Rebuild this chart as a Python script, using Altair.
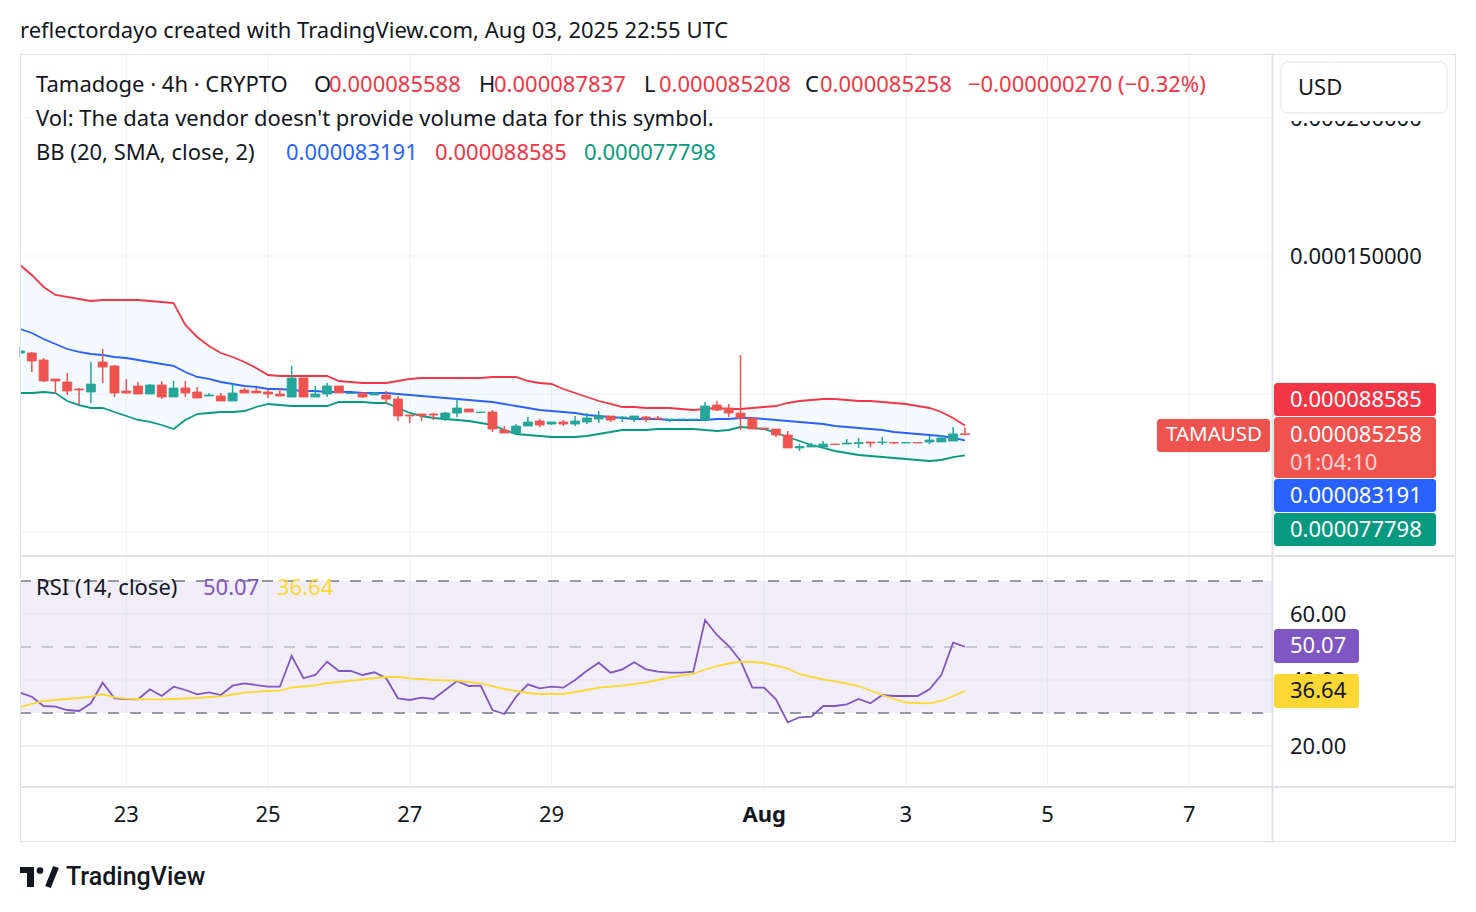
import altair as alt
import pandas as pd
import numpy as np

# ---------------- data (prices in units of 1e-6 USD) ----------------
open_e6 = [114.85, 114.85, 112.31, 105.43, 104.35, 101.81, 100.72, 111.59, 110.14, 101.08,
           102.90, 99.99, 103.26, 98.91, 102.17, 100.72, 99.27, 99.27, 97.46, 101.45,
           101.08, 100.72, 99.99, 98.91, 105.80, 98.91, 99.99, 102.90, 100.20, 100.36,
           99.63, 99.63, 98.18, 92.39, 92.75, 92.75, 91.30, 93.11, 94.56, 93.30,
           93.47, 86.95, 85.86, 88.40, 90.21, 89.12, 89.85, 89.12, 89.85, 90.94,
           92.02, 91.30, 90.94, 91.66, 91.30, 90.58, 90.76, 90.76, 90.58, 96.01,
           94.92, 93.11, 91.30, 87.68, 87.31, 85.14, 80.43, 80.79, 80.79, 81.88,
           81.88, 82.06, 82.60, 82.42, 82.42, 82.24, 82.42, 82.60, 82.60, 82.97,
           85.588]
high_e6 = [117.39, 115.22, 113.04, 105.43, 107.61, 102.17, 111.59, 116.30, 110.50, 105.43,
           104.35, 103.62, 104.71, 104.71, 104.71, 102.53, 100.36, 100.36, 103.62, 102.17,
           102.17, 101.45, 102.17, 110.14, 105.80, 102.90, 103.98, 102.90, 100.36, 100.36,
           100.72, 101.08, 99.27, 92.39, 92.75, 93.11, 93.47, 98.18, 94.56, 93.47,
           94.20, 88.40, 89.12, 91.66, 90.94, 89.85, 90.58, 92.02, 93.11, 93.84,
           92.02, 92.02, 92.02, 92.02, 92.02, 90.94, 90.94, 90.94, 97.10, 97.46,
           96.37, 114.13, 91.30, 87.68, 87.31, 86.59, 81.88, 82.24, 82.97, 81.88,
           83.69, 84.05, 82.60, 84.41, 82.42, 82.42, 82.42, 84.78, 85.14, 88.04,
           87.837]
low_e6 = [113.04, 107.97, 104.35, 99.99, 99.63, 96.01, 96.73, 103.98, 98.91, 99.99,
          99.99, 99.99, 98.18, 98.91, 98.91, 98.55, 99.27, 97.46, 97.46, 100.36,
          100.36, 98.55, 99.27, 98.91, 98.91, 98.91, 98.91, 100.36, 99.99, 98.55,
          99.63, 96.37, 90.21, 89.49, 90.21, 90.58, 90.21, 91.66, 93.47, 93.11,
          86.23, 85.86, 85.86, 88.40, 88.04, 88.76, 88.40, 88.40, 89.12, 89.49,
          89.85, 89.85, 89.85, 89.85, 90.94, 89.85, 90.58, 90.58, 90.58, 93.84,
          91.66, 86.95, 87.31, 87.31, 84.41, 80.43, 79.34, 80.79, 80.43, 81.70,
          81.88, 80.43, 80.79, 81.52, 81.88, 82.24, 82.24, 81.88, 82.60, 82.97,
          85.208]
close_e6 = [115.58, 111.95, 104.71, 104.71, 101.08, 101.45, 103.62, 109.78, 100.36, 100.36,
            99.99, 103.26, 98.91, 102.17, 100.36, 98.55, 99.63, 97.46, 100.36, 100.36,
            100.36, 99.99, 99.27, 105.80, 98.91, 99.99, 102.90, 100.36, 100.36, 98.91,
            100.36, 98.18, 92.02, 92.02, 92.20, 92.39, 93.11, 94.92, 93.47, 93.47,
            87.31, 85.86, 88.40, 89.85, 88.76, 89.85, 89.12, 90.21, 91.30, 92.02,
            90.58, 91.66, 92.02, 90.94, 90.94, 90.94, 90.94, 90.94, 95.65, 94.20,
            93.11, 91.30, 87.31, 87.31, 85.14, 80.43, 80.97, 81.52, 81.88, 81.70,
            82.24, 82.42, 82.24, 82.60, 82.24, 82.42, 82.24, 83.33, 84.05, 85.528,
            85.258]
bb_upper_e6 = [146.74, 143.12, 138.77, 135.87, 135.15, 134.42, 133.70, 134.06, 134.06, 134.06,
               134.06, 133.70, 133.33, 132.97, 125.00, 120.65, 117.39, 114.85, 113.41, 111.59,
               109.42, 106.88, 106.52, 106.52, 106.52, 106.52, 106.52, 104.71, 104.35, 103.99,
               103.99, 103.99, 104.71, 105.44, 105.80, 105.80, 105.80, 105.80, 105.80, 105.80,
               106.16, 106.16, 106.16, 104.71, 103.99, 103.62, 101.81, 100.36, 98.91, 97.46,
               96.38, 95.29, 95.29, 94.93, 94.93, 94.93, 94.57, 94.20, 94.57, 94.93,
               94.57, 94.57, 94.93, 95.29, 95.65, 96.74, 97.46, 97.83, 98.19, 98.19,
               97.83, 97.46, 97.46, 97.10, 96.74, 96.38, 95.65, 94.93, 93.48, 91.30,
               88.585]
bb_basis_e6 = [123.55, 122.10, 119.93, 118.12, 116.30, 115.22, 114.49, 114.13, 113.41, 113.04,
               112.32, 111.59, 110.87, 110.15, 107.97, 106.16, 105.44, 104.35, 103.62, 102.90,
               102.54, 101.81, 101.81, 101.45, 101.09, 101.09, 100.72, 100.72, 100.72, 100.36,
               100.36, 100.36, 100.00, 99.64, 99.28, 98.91, 98.55, 98.19, 97.83, 97.46,
               97.10, 96.38, 95.65, 94.93, 94.20, 93.84, 93.48, 93.12, 92.39, 92.03,
               91.67, 91.30, 90.94, 90.94, 90.94, 90.58, 90.58, 90.58, 90.58, 90.94,
               90.94, 91.30, 91.30, 90.94, 90.58, 90.22, 89.86, 89.49, 89.13, 88.41,
               88.04, 87.68, 87.32, 86.96, 86.23, 85.87, 85.51, 85.15, 84.78, 84.06,
               83.191]
bb_lower_e6 = [100.36, 100.36, 100.72, 100.36, 97.46, 96.01, 94.93, 94.93, 93.48, 92.03,
               90.58, 89.86, 88.77, 87.32, 90.58, 92.75, 93.12, 93.48, 93.48, 93.84,
               95.29, 96.38, 96.01, 95.65, 95.65, 95.65, 95.65, 97.10, 97.10, 97.10,
               96.74, 96.74, 94.93, 93.12, 92.03, 91.30, 90.94, 90.58, 90.22, 89.49,
               88.77, 86.96, 85.51, 85.15, 84.78, 84.42, 84.42, 84.42, 84.78, 85.51,
               86.23, 86.96, 86.96, 86.96, 87.32, 87.32, 87.32, 87.32, 86.96, 86.60,
               86.96, 88.04, 87.68, 87.32, 85.87, 84.42, 82.97, 81.52, 80.44, 79.35,
               78.62, 77.90, 77.54, 77.17, 76.81, 76.45, 76.09, 75.72, 76.09, 77.17,
               77.798]
rsi_vals = [36.15, 34.94, 32.12, 31.91, 30.91, 30.61, 32.94, 39.18, 34.45, 34.24,
            34.15, 37.18, 35.15, 37.97, 36.97, 35.67, 36.27, 35.45, 38.27, 39.00,
            38.48, 37.97, 37.97, 47.27, 40.52, 41.52, 45.55, 42.73, 42.73, 41.52,
            42.33, 40.52, 34.45, 33.94, 34.64, 34.24, 36.97, 39.70, 38.18, 38.27,
            30.91, 29.70, 34.94, 38.70, 37.48, 37.97, 37.67, 40.00, 42.82, 45.24,
            42.21, 43.24, 45.36, 43.24, 42.52, 42.21, 42.21, 42.52, 58.18, 53.64,
            50.30, 45.85, 37.67, 37.67, 34.15, 27.18, 28.70, 28.88, 32.12, 32.12,
            32.64, 34.24, 32.94, 35.45, 35.15, 35.15, 35.15, 37.18, 41.52, 51.30,
            50.07]
rsi_ma_vals = [31.73, 32.73, 33.64, 33.94, 34.24, 34.55, 34.94, 35.67, 34.76, 34.33,
               34.24, 34.15, 34.15, 34.24, 34.39, 34.55, 34.85, 35.06, 35.61, 36.15,
               36.42, 36.67, 36.76, 37.73, 38.03, 38.39, 39.09, 39.39, 39.79, 40.15,
               40.61, 40.91, 40.91, 40.52, 40.30, 40.00, 39.91, 39.79, 39.39, 39.00,
               38.18, 37.27, 36.67, 36.06, 35.76, 35.76, 35.76, 36.36, 36.97, 37.67,
               38.03, 38.27, 38.79, 39.30, 40.00, 40.76, 41.36, 41.82, 43.18, 44.24,
               45.00, 45.55, 45.45, 45.15, 44.39, 43.48, 41.82, 40.91, 40.15, 39.55,
               38.94, 38.18, 36.82, 35.45, 34.24, 33.18, 33.03, 32.94, 33.64, 35.15,
               36.64]

price_ticks_e6 = [50, 100, 150, 200]
price_ticks_labelled_e6 = [150, 200]   # the others sit under the price tags
rsi_ticks = [20, 40, 60]
rsi_levels = [70, 50, 30]
date_ticks = ["2025-07-23", "2025-07-25", "2025-07-27", "2025-07-29",
              "2025-08-01", "2025-08-03", "2025-08-05", "2025-08-07"]
date_labels = ["23", "25", "27", "29", "Aug", "3", "5", "7"]
date_bold = [False, False, False, False, True, False, False, False]

# ---------------- frames ----------------
E6 = 1e-6
t0 = pd.Timestamp("2025-07-21 12:00", tz="UTC")
times = pd.date_range(t0, periods=len(close_e6), freq="4h")
ms = lambda ts: int(ts.value // 10**6)

df = pd.DataFrame({
    "t": [ms(t) for t in times],
    "open": np.array(open_e6) * E6,
    "high": np.array(high_e6) * E6,
    "low": np.array(low_e6) * E6,
    "close": np.array(close_e6) * E6,
    "bb_upper": np.array(bb_upper_e6) * E6,
    "bb_basis": np.array(bb_basis_e6) * E6,
    "bb_lower": np.array(bb_lower_e6) * E6,
    "rsi": rsi_vals,
    "rsi_ma": rsi_ma_vals,
})
df["dir"] = np.where(df["close"] >= df["open"], "up", "down")

ptick = pd.DataFrame({"p": np.array(price_ticks_e6) * E6})
plab = pd.DataFrame({"p": np.array(price_ticks_labelled_e6) * E6})
plab["label"] = [f"{v:.9f}" for v in plab["p"]]
rtick = pd.DataFrame({"v": rsi_ticks, "label": [f"{v:.2f}" for v in rsi_ticks]})
rlev = pd.DataFrame({"v": rsi_levels})
rband = pd.DataFrame({"hi": [max(rsi_levels)], "lo": [min(rsi_levels)]})
dticks = pd.DataFrame({
    "t": [ms(pd.Timestamp(d, tz="UTC")) for d in date_ticks],
    "label": date_labels, "bold": date_bold})
one = pd.DataFrame({"k": [0]})

# ---------------- styles ----------------
FONT = "Noto Sans"
FS = 22
DARK = "#131722"
GRID = "#f0f3fa"
FRAME = "#e0e3eb"
UP = "#26a69a"
DOWN = "#ef5350"
BB_UP = "#f23645"
BB_MID = "#2962ff"
BB_LO = "#089981"
RSI_C = "#7e57c2"
MA_C = "#fdd835"
LW = 1.8

PX_PER_DAY = 70.87
X_LEFT, X_RIGHT = 20, 1272
view_days = (X_RIGHT - X_LEFT) / PX_PER_DAY
xscale = alt.Scale(type="utc", domain=[ms(t0), ms(t0 + pd.Timedelta(days=view_days))],
                   range=[X_LEFT, X_RIGHT], nice=False, padding=0)
# price pane: y 54..555 ; 150e-6 at y=256, 2.76 px per 1e-6
pscale = alt.Scale(domain=[(150 - (555 - 256) / 2.76) * E6, (150 + (256 - 54) / 2.76) * E6],
                   range=[555, 54], zero=False, nice=False)
# rsi pane: y 557..787 ; 60 at y=614, 3.3 px per unit
rscale = alt.Scale(domain=[20 - (787 - 746) / 3.3, 60 + (614 - 557) / 3.3],
                   range=[787, 557], zero=False, nice=False)

X = alt.X("t:T", scale=xscale, axis=None)
dir_scale = alt.Scale(domain=["up", "down"], range=[UP, DOWN])


def P(field):
    return alt.Y(f"{field}:Q", scale=pscale, axis=None)


def R(field):
    return alt.Y(f"{field}:Q", scale=rscale, axis=None)


def text(x, y, s, color=DARK, size=FS, weight="normal", align="left", opacity=1.0, font=FONT):
    return alt.Chart(one).mark_text(
        text=s, align=align, baseline="middle", font=font, fontSize=size,
        fontWeight=weight, color=color, opacity=opacity
    ).encode(x=alt.value(x), y=alt.value(y))


def box(x1, x2, y1, y2, fill, radius=0, stroke=None):
    kw = dict(color=fill, cornerRadius=radius)
    if stroke:
        kw.update(stroke=stroke, strokeWidth=1)
    return alt.Chart(one).mark_rect(**kw).encode(
        x=alt.value(x1), x2=alt.value(x2), y=alt.value(y1), y2=alt.value(y2))


def line(x1, x2, y1, y2, color=FRAME, width=1):
    return alt.Chart(one).mark_rule(color=color, strokeWidth=width).encode(
        x=alt.value(x1), x2=alt.value(x2), y=alt.value(y1), y2=alt.value(y2))


# ---------------- price pane ----------------
base = alt.Chart(df)
price_grid = alt.Chart(ptick).mark_rule(color=GRID, strokeWidth=1).encode(
    y=P("p"), x=alt.value(X_LEFT), x2=alt.value(X_RIGHT))
bb_fill = base.mark_area(color="#2196f3", opacity=0.05).encode(x=X, y=P("bb_upper"), y2="bb_lower:Q")
bb_u = base.mark_line(color=BB_UP, strokeWidth=LW).encode(x=X, y=P("bb_upper"))
bb_m = base.mark_line(color=BB_MID, strokeWidth=LW).encode(x=X, y=P("bb_basis"))
bb_l = base.mark_line(color=BB_LO, strokeWidth=LW).encode(x=X, y=P("bb_lower"))
wicks = base.mark_rule(strokeWidth=1.5).encode(
    x=X, y=P("low"), y2="high:Q",
    color=alt.Color("dir:N", scale=dir_scale, legend=None))
bodies = base.mark_bar(size=9, strokeWidth=0.8).encode(
    x=X, y=P("open"), y2="close:Q",
    fill=alt.Fill("dir:N", scale=dir_scale, legend=None),
    stroke=alt.Stroke("dir:N", scale=dir_scale, legend=None))
price_labels = alt.Chart(plab).mark_text(
    align="left", baseline="middle", font=FONT, fontSize=FS, color=DARK, dy=1
).encode(y=P("p"), x=alt.value(1290), text="label:N")

price_pane = alt.layer(price_grid, bb_fill, bb_u, bb_m, bb_l, wicks, bodies, price_labels)

# ---------------- rsi pane ----------------
rsi_bg = alt.Chart(rband).mark_rect(color=RSI_C, opacity=0.1).encode(
    y=R("hi"), y2="lo:Q", x=alt.value(X_LEFT), x2=alt.value(X_RIGHT))
rsi_grid = alt.Chart(rtick).mark_rule(color="#e6e3ee", strokeWidth=1).encode(
    y=R("v"), x=alt.value(X_LEFT), x2=alt.value(X_RIGHT))
rsi_lvl = alt.Chart(rlev).mark_rule(strokeWidth=1.5, strokeDash=[11, 11]).encode(
    y=R("v"), x=alt.value(X_LEFT), x2=alt.value(X_RIGHT),
    color=alt.condition("datum.v == 50", alt.value("#b9bbc3"), alt.value("#787b86")))
rsi_line = base.mark_line(color=RSI_C, strokeWidth=LW).encode(x=X, y=R("rsi"))
ma_line = base.mark_line(color=MA_C, strokeWidth=LW).encode(x=X, y=R("rsi_ma"))
rsi_labels = alt.Chart(rtick).mark_text(
    align="left", baseline="middle", font=FONT, fontSize=FS, color=DARK, dy=1
).encode(y=R("v"), x=alt.value(1290), text="label:N")

rsi_pane = alt.layer(rsi_bg, rsi_grid, rsi_lvl, rsi_line, ma_line, rsi_labels)

# ---------------- time axis ----------------
vgrid = alt.Chart(dticks).mark_rule(color=GRID, strokeWidth=1).encode(
    x=X, y=alt.value(54), y2=alt.value(787))
tl_norm = alt.Chart(dticks).transform_filter("!datum.bold").mark_text(
    align="center", baseline="middle", font=FONT, fontSize=FS, color=DARK
).encode(x=X, y=alt.value(815), text="label:N")
tl_bold = alt.Chart(dticks).transform_filter("datum.bold").mark_text(
    align="center", baseline="middle", font=FONT, fontSize=FS, color=DARK, fontWeight="bold"
).encode(x=X, y=alt.value(815), text="label:N")

# ---------------- annotations ----------------
fmt = lambda v: f"{v * E6:.9f}"
last = len(close_e6) - 1
chg = (close_e6[last] - close_e6[last - 1]) * E6
pct = (close_e6[last] - close_e6[last - 1]) / close_e6[last - 1] * 100
chg_txt = f"{chg:.9f} ({pct:.2f}%)".replace("-", "\u2212")
if chg >= 0:
    chg_txt = "+" + chg_txt

ann = [
    box(0, 19.5, 54, 787, "white"),
    text(20, 31, "reflectordayo created with TradingView.com, Aug 03, 2025 22:55 UTC"),
    text(36, 85, "Tamadoge \u00b7 4h \u00b7 CRYPTO"),
    text(314, 85, "O"), text(329, 85, fmt(open_e6[last]), BB_UP),
    text(479, 85, "H"), text(494, 85, fmt(high_e6[last]), BB_UP),
    text(644, 85, "L"), text(659, 85, fmt(low_e6[last]), BB_UP),
    text(805, 85, "C"), text(820, 85, fmt(close_e6[last]), BB_UP),
    text(968, 85, chg_txt, BB_UP),
    text(36, 119, "Vol: The data vendor doesn't provide volume data for this symbol."),
    text(36, 153, "BB (20, SMA, close, 2)"),
    text(286, 153, fmt(bb_basis_e6[last]), BB_MID),
    text(435, 153, fmt(bb_upper_e6[last]), BB_UP),
    text(584, 153, fmt(bb_lower_e6[last]), BB_LO),
    text(36, 588, "RSI (14, close)"),
    text(203, 588, f"{rsi_vals[last]:.2f}", RSI_C),
    text(277, 588, f"{rsi_ma_vals[last]:.2f}", MA_C),
    # frame
    line(20, 1456, 54.5, 54.5), line(20, 1456, 841.5, 841.5),
    line(20.5, 20.5, 54, 842), line(1455.5, 1455.5, 54, 842),
    line(1272.5, 1272.5, 54, 842, width=2),
    line(20, 1456, 556, 556, width=2), line(20, 1456, 787, 787, width=2),
    # USD box
    box(1274, 1454, 56, 121, "white"),
    box(1281, 1447, 62, 113, "white", radius=7, stroke=FRAME),
    text(1298, 88, "USD"),
    # price tags
    box(1274, 1436, 383, 416, BB_UP, radius=3),
    text(1290, 400, fmt(bb_upper_e6[last]), "white"),
    box(1274, 1436, 417, 478, DOWN, radius=3),
    text(1290, 435, fmt(close_e6[last]), "white"),
    text(1290, 463, "01:04:10", "white", opacity=0.75),
    box(1157, 1270, 419, 452, DOWN, radius=3),
    text(1166, 435, "TAMAUSD", "white", size=20.5),
    box(1274, 1436, 479, 512, BB_MID, radius=3),
    text(1290, 496, fmt(bb_basis_e6[last]), "white"),
    box(1274, 1436, 513, 546, BB_LO, radius=3),
    text(1290, 530, fmt(bb_lower_e6[last]), "white"),
    # rsi tags
    box(1274, 1359, 629, 663, RSI_C, radius=3),
    text(1290, 646, f"{rsi_vals[last]:.2f}", "white"),
    box(1274, 1359, 674, 708, MA_C, radius=3),
    text(1290, 691, f"{rsi_ma_vals[last]:.2f}", DARK),
    # logo
    box(20, 34, 867, 873, DARK), box(27, 34, 867, 887, DARK),
    alt.Chart(one).mark_point(filled=True, size=45, color=DARK, opacity=1).encode(
        x=alt.value(40), y=alt.value(870.5)),
    alt.Chart(one).mark_rule(color=DARK, strokeWidth=6).encode(
        x=alt.value(48), x2=alt.value(56), y=alt.value(887), y2=alt.value(867)),
    text(66, 877, "TradingView", size=25, weight=500, font="Roboto"),
]

chart = alt.layer(vgrid, price_pane, rsi_pane, tl_norm, tl_bold, *ann).resolve_scale(
    y="independent"
).properties(
    width=1476, height=912, autosize="none", padding=0, background="white"
).configure_view(stroke=None)

chart.save("out.html", embed_options={"renderer": "svg", "actions": False})
